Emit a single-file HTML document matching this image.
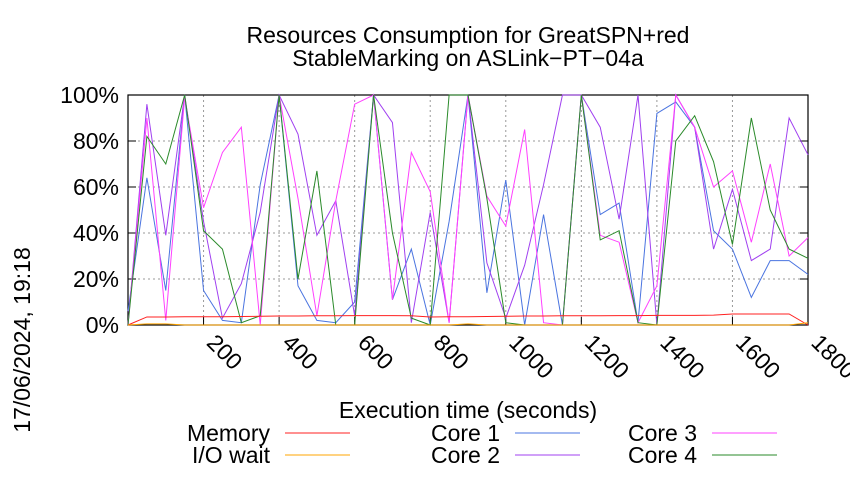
<!DOCTYPE html>
<html><head><meta charset="utf-8"><style>
body{margin:0;background:#fff;}
svg text{font-family:"Liberation Sans",sans-serif;fill:#000;}
</style></head><body>
<svg id="chart" width="850" height="475" viewBox="0 0 850 475" xmlns="http://www.w3.org/2000/svg">
<rect width="850" height="475" fill="#fff"/>
<text x="468" y="43" text-anchor="middle" font-size="23">Resources Consumption for GreatSPN+red</text>
<text x="468" y="66" text-anchor="middle" font-size="23">StableMarking on ASLink−PT−04a</text>
<g id="grid"></g>
<g id="axes"></g>
<g id="series"></g>
<text x="468" y="418" text-anchor="middle" font-size="23">Execution time (seconds)</text>
<text transform="translate(30,340) rotate(-90)" text-anchor="middle" font-size="23">17/06/2024, 19:18</text>
<g id="legend"></g>
</svg>
<script>
const times = [];
for (let t = 0; t <= 1800; t += 50) times.push(t);
const memory = [0,3.5,3.5,3.6,3.6,3.6,3.7,3.8,3.9,3.9,4,4,4.1,4.1,4.1,4,3.5,3.6,3.6,3.7,3.8,3.9,3.9,4,4,4,4.1,4.1,4.2,4.2,4.2,4.3,4.8,4.8,4.8,4.8,0];
const ioWait = [0,0.5,0.5,0,0,0,0,0,0,0,0,0,0,0,0,0,0,0,0.5,0,0,0,0,0,0,0,0,0,0,0,0,0,0,0,0,0,1];
const core1 = [6,64,15,100,15,2,1,61,100,17,2,1,10,100,11,33,0,45,100,14,63,0,48,0,100,48,53,1,92,97,86,41,33,12,28,28,22];
const core2 = [0,96,39,100,45,3,18,49,100,83,39,54,4,100,88,1,49,1,100,27,3,26,61,100,100,86,46,100,0,100,86,33,59,28,33,90,74];
const core3 = [0,90,2,99,51,75,86,0,100,55,4,54,96,100,11,75,58,1,100,56,43,85,1,0,100,39,36,1,17,100,86,60,67,36,70,30,38];
const core4 = [0,82,70,100,41,33,1,4,100,20,67,0,0,100,40,3,0,100,100,55,1,0,0,0,100,37,41,1,0,80,91,71,35,90,50,33,29];
const yTicks = [0,20,40,60,80,100];
const xTicks = [200,400,600,800,1000,1200,1400,1600,1800];

const X0=128,X1=808,Y0=325,Y1=95;
const xs = t => X0 + t/1800*(X1-X0);
const ys = v => Y0 - v/100*(Y0-Y1);
const NS="http://www.w3.org/2000/svg";
function mk(tag, parent, attrs){const e=document.createElementNS(NS,tag);for(const k in attrs)e.setAttribute(k,attrs[k]);parent.appendChild(e);return e;}
const grid=document.getElementById('grid'), axes=document.getElementById('axes'), ser=document.getElementById('series'), leg=document.getElementById('legend');

yTicks.forEach(v=>{
  if(v>0&&v<100){const g=mk('line',grid,{x1:X0,x2:X1,y1:ys(v),y2:ys(v),stroke:'#999','stroke-dasharray':'2,3','stroke-width':1});
  
  }
  const tk=mk('line',axes,{x1:X0,x2:X0+8,y1:ys(v),y2:ys(v),stroke:'#000'});
  
  
  const tk2=mk('line',axes,{x1:X1-8,x2:X1,y1:ys(v),y2:ys(v),stroke:'#000'});
  
  
  const t=mk('text',axes,{x:X0-9,y:ys(v)+8,'text-anchor':'end','font-size':23});
  t.textContent=v+'%';
  
  
});
xTicks.forEach(v=>{
  if(v<1800){const g=mk('line',grid,{x1:xs(v),x2:xs(v),y1:Y1,y2:Y0,stroke:'#999','stroke-dasharray':'2,3','stroke-width':1});
  
  }
  const tk=mk('line',axes,{x1:xs(v),x2:xs(v),y1:Y0,y2:Y0-8,stroke:'#000'});
  
  
  const t=mk('text',axes,{transform:`translate(${xs(v)+2},${Y0+19}) rotate(45)`,'font-size':23});
  t.textContent=v;
  
  
});
const border=mk('rect',axes,{x:X0,y:Y1,width:X1-X0,height:Y0-Y1,fill:'none',stroke:'#000','stroke-width':1.2});



const seriesDefs=[
 ['Memory',memory,'#ff2020','memory-line'],
 ['I/O wait',ioWait,'#ffa500','io-wait-line'],
 ['Core 1',core1,'#4a74e0','core-1-line'],
 ['Core 2',core2,'#a040f0','core-2-line'],
 ['Core 3',core3,'#ff40ff','core-3-line'],
 ['Core 4',core4,'#2a8a2a','core-4-line']
];
[2,3,4,5,0,1].forEach(i=>{
  const [n,d,c,nm]=seriesDefs[i];
  const p=mk('polyline',ser,{points:d.map((v,j)=>xs(times[j])+','+ys(v)).join(' '),fill:'none',stroke:c,'stroke-width':1});
  
  
});
const legPos=[[270,433],[270,455],[500,433],[500,455],[697,433],[697,455]];
seriesDefs.forEach((s,i)=>{
  const [x,y]=legPos[i];
  const t=mk('text',leg,{x:x,y:y+8,'text-anchor':'end','font-size':23});
  t.textContent=s[0];
  
  
  const l=mk('line',leg,{x1:x+15,x2:x+80,y1:y,y2:y,stroke:s[2],'stroke-width':1});
  
  
});
</script>
</body></html>
